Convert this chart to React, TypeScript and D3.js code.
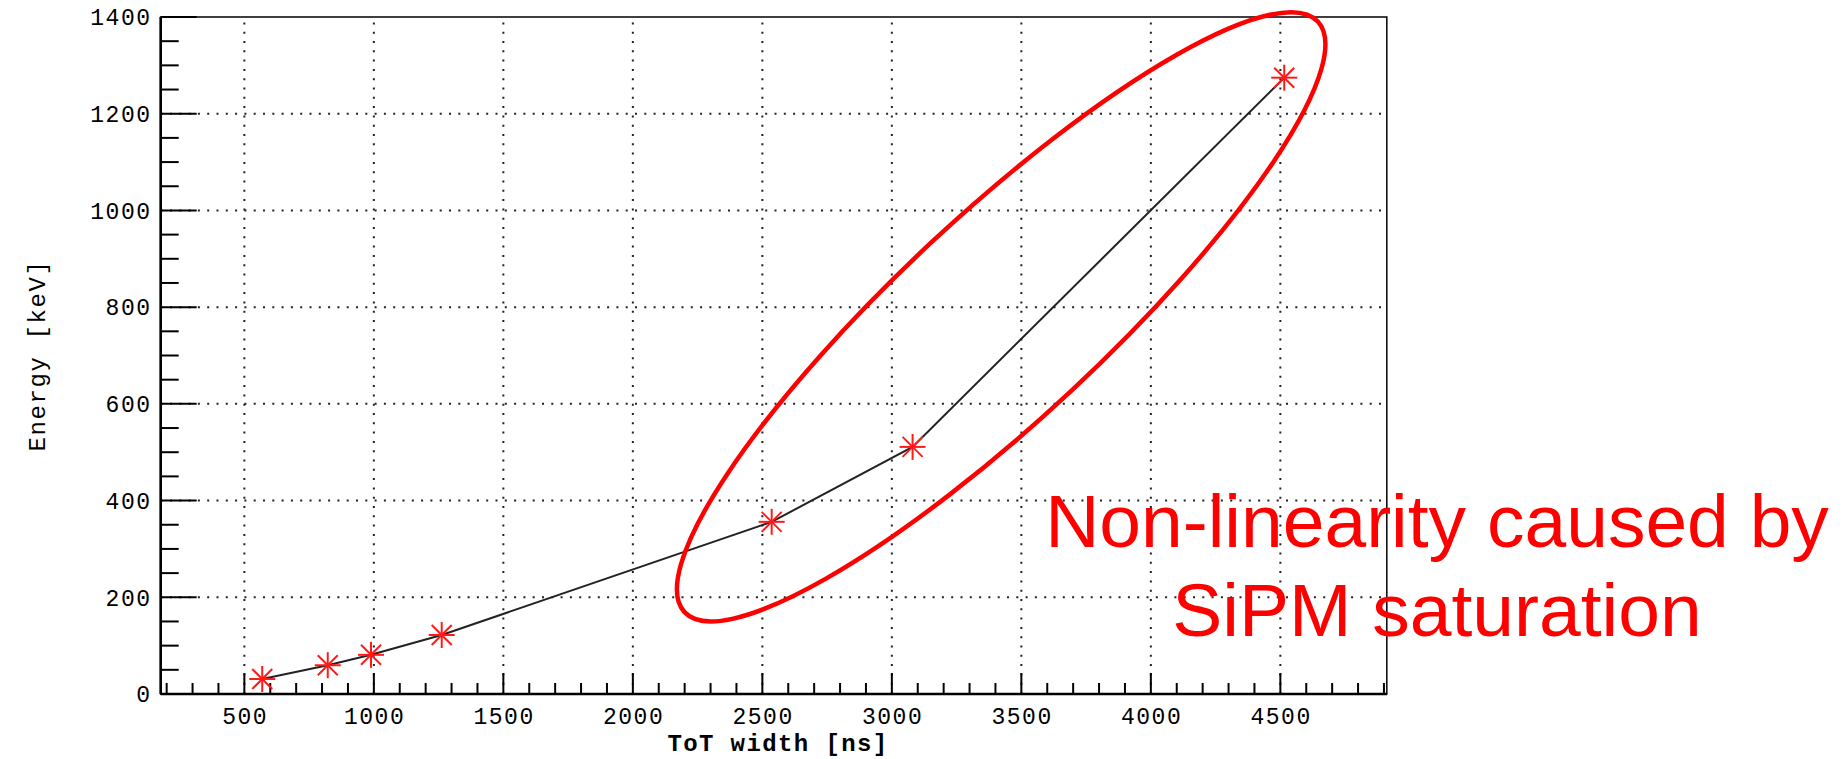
import React from "react";
import * as d3 from "d3";

// measured points: ToT width [ns] vs energy [keV]
const totWidth = [569, 822, 989, 1262, 2536, 3080, 4515];
const energy = [31, 59.5, 81, 122, 356, 511, 1274.5];

const xMajorTicks = [500, 1000, 1500, 2000, 2500, 3000, 3500, 4000, 4500];
const yMajorTicks = [0, 200, 400, 600, 800, 1000, 1200, 1400];

const noteLines = ["Non-linearity caused by", "SiPM saturation"];

const W = 1846;
const H = 759;

export default function App() {
  React.useEffect(() => {
    document.body.style.margin = "0";
  }, []);

  const x = d3.scaleLinear().domain([177, 4911]).range([160.7, 1386.8]);
  const y = d3.scaleLinear().domain([0, 1400]).range([694, 17]);
  const [x0, x1] = x.range();
  const [y0, y1] = y.range();

  const xMinor = d3.range(200, 4911, 100).filter((v) => v % 500 !== 0);
  const yMinor = d3.range(0, 1400, 50).filter((v) => v % 200 !== 0);

  const line = d3
    .line<number>()
    .x((_, i) => x(totWidth[i]))
    .y((d) => y(d));

  const mono = "'Liberation Mono', 'DejaVu Sans Mono', monospace";
  const dots = "2 7.3";

  // ellipse around the saturated points (center in data units, axes in px)
  const ellCx = x(3422);
  const ellCy = y(780);

  return (
    <svg
      width={W}
      height={H}
      viewBox={`0 0 ${W} ${H}`}
      style={{ display: "block", background: "#fff" }}
    >
      {/* grid */}
      <g stroke="#222" strokeWidth={2} strokeDasharray={dots}>
        {xMajorTicks.map((v) => (
          <line key={"gx" + v} x1={x(v)} x2={x(v)} y1={y0} y2={y1} />
        ))}
        {yMajorTicks
          .filter((v) => v > 0 && v < 1400)
          .map((v) => (
            <line key={"gy" + v} x1={x0} x2={x1} y1={y(v)} y2={y(v)} />
          ))}
      </g>

      {/* frame */}
      <rect
        x={x0}
        y={y1}
        width={x1 - x0}
        height={y0 - y1}
        fill="none"
        stroke="#111"
        strokeWidth={1.6}
      />
      <line x1={x0} x2={x1} y1={y0} y2={y0} stroke="#000" strokeWidth={2.6} />
      <line x1={x0} x2={x0} y1={y0} y2={y1} stroke="#000" strokeWidth={2.6} />

      {/* x ticks */}
      <g stroke="#000" strokeWidth={2}>
        {xMajorTicks.map((v) => (
          <line key={"xt" + v} x1={x(v)} x2={x(v)} y1={y0} y2={y0 - 21} />
        ))}
        {xMinor.map((v) => (
          <line key={"xm" + v} x1={x(v)} x2={x(v)} y1={y0} y2={y0 - 11} />
        ))}
        {yMajorTicks.map((v) => (
          <line key={"yt" + v} x1={x0} x2={x0 + 36} y1={y(v)} y2={y(v)} />
        ))}
        {yMinor.map((v) => (
          <line key={"ym" + v} x1={x0} x2={x0 + 18} y1={y(v)} y2={y(v)} />
        ))}
      </g>

      {/* tick labels */}
      <g fontFamily={mono} fontSize={23} fill="#000" letterSpacing={1.5}>
        {xMajorTicks.map((v) => (
          <text key={"xl" + v} x={x(v) + 0.75} y={724} textAnchor="middle">
            {v}
          </text>
        ))}
        {yMajorTicks.map((v) => (
          <text
            key={"yl" + v}
            x={151.5}
            y={y(v)}
            dy="0.36em"
            textAnchor="end"
          >
            {v}
          </text>
        ))}
      </g>

      {/* axis titles */}
      <text
        x={778}
        y={751}
        textAnchor="middle"
        fontFamily={mono}
        fontSize={24}
        fontWeight="bold"
        letterSpacing={1.4}
      >
        ToT width [ns]
      </text>
      <text
        transform={`translate(45,${(y0 + y1) / 2}) rotate(-90)`}
        textAnchor="middle"
        fontFamily={mono}
        fontSize={24}
        letterSpacing={1.6}
      >
        Energy [keV]
      </text>

      {/* curve */}
      <path
        d={line(energy) ?? ""}
        fill="none"
        stroke="#222"
        strokeWidth={2}
      />

      {/* star markers */}
      <g stroke="#ff1a1a" strokeWidth={2}>
        {energy.map((e, i) => {
          const cx = x(totWidth[i]);
          const cy = y(e);
          const r = 13;
          const d = 10;
          return (
            <g key={"m" + i}>
              <line x1={cx - r} x2={cx + r} y1={cy} y2={cy} />
              <line x1={cx} x2={cx} y1={cy - r} y2={cy + r} />
              <line x1={cx - d} x2={cx + d} y1={cy - d} y2={cy + d} />
              <line x1={cx - d} x2={cx + d} y1={cy + d} y2={cy - d} />
            </g>
          );
        })}
      </g>

      {/* annotation */}
      <ellipse
        cx={ellCx}
        cy={ellCy}
        rx={433}
        ry={102}
        transform={`rotate(-43 ${ellCx} ${ellCy})`}
        fill="none"
        stroke="#ff0000"
        strokeWidth={4.5}
      />
      <g
        fontFamily="'Liberation Sans', Arial, sans-serif"
        fontSize={75}
        fill="#ff0000"
        textAnchor="middle"
      >
        {noteLines.map((t, i) => (
          <text key={t} x={1437} y={547 + i * 89}>
            {t}
          </text>
        ))}
      </g>
    </svg>
  );
}
